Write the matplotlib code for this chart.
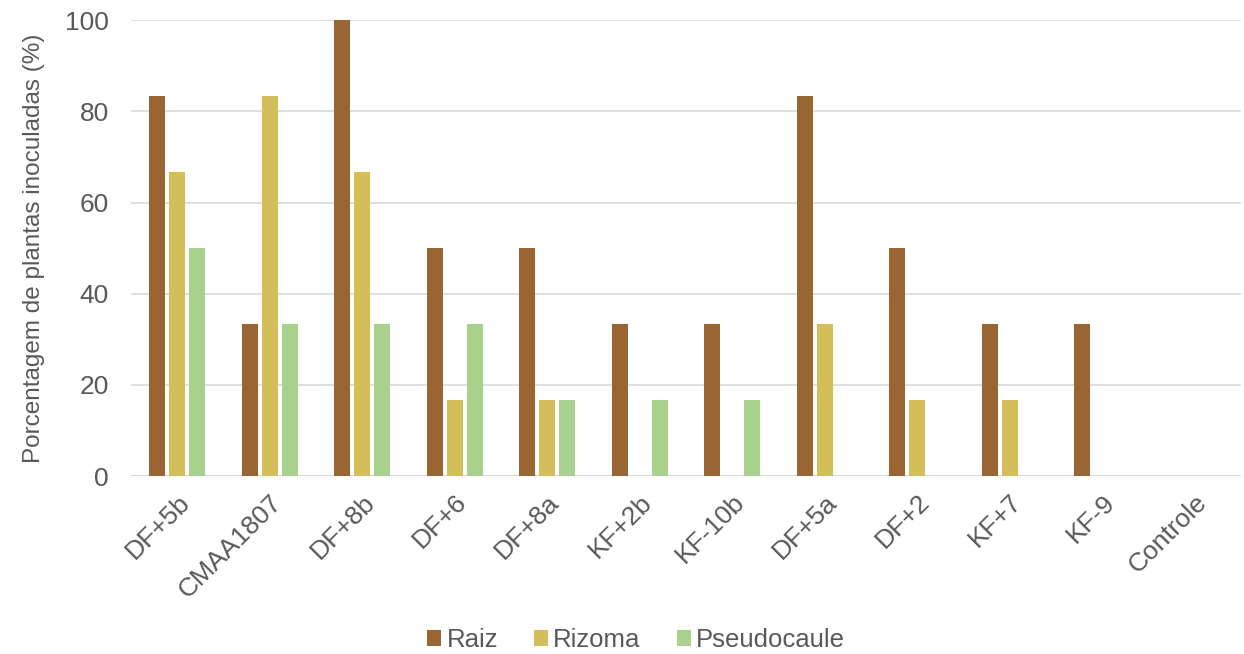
import numpy as np
import matplotlib.pyplot as plt

plt.rcParams['font.family'] = ['Liberation Sans', 'DejaVu Sans']

categorias = ['DF+5b', 'CMAA1807', 'DF+8b', 'DF+6', 'DF+8a', 'KF+2b', 'KF-10b',
              'DF+5a', 'DF+2', 'KF+7', 'KF-9', 'Controle']
raiz = [83.3, 33.3, 100, 50, 50, 33.3, 33.3, 83.3, 50, 33.3, 33.3, 0]
rizoma = [66.7, 83.3, 66.7, 16.7, 16.7, 0, 0, 33.3, 16.7, 16.7, 0, 0]
pseudocaule = [50, 33.3, 33.3, 33.3, 16.7, 16.7, 16.7, 0, 0, 0, 0, 0]

series = [('Raiz', raiz, '#996633'),
          ('Rizoma', rizoma, '#D4BE5A'),
          ('Pseudocaule', pseudocaule, '#A9D18E')]

cinza = '#595959'
fig = plt.figure(figsize=(12.44, 6.54), dpi=100)
ax = fig.add_axes([0.1053, 0.272, 0.8923, 0.697])

x = np.arange(len(categorias))
passo = 0.216
largura = 0.17
for i, (nome, vals, cor) in enumerate(series):
    ax.bar(x + (i - 1) * passo, vals, largura, color=cor, label=nome, zorder=3)

ax.set_xlim(-0.5, len(categorias) - 0.5)
ax.set_ylim(0, 100)
ax.set_yticks(range(0, 101, 20))
ax.yaxis.grid(True, color='#D9D9D9', linewidth=1.2, zorder=0)
for s in ax.spines.values():
    s.set_visible(False)
ax.axhline(0, color='#D9D9D9', linewidth=1.2, zorder=1)
ax.tick_params(axis='both', length=0, labelsize=19, colors=cinza)
ax.tick_params(axis='y', pad=16)
ax.tick_params(axis='x', pad=10)
ax.set_xticks(x)
ax.set_xticklabels(categorias, rotation=45, ha='right', rotation_mode='anchor')
ax.set_ylabel('Porcentagem de plantas inoculadas (%)', fontsize=17.5, color=cinza, labelpad=14)

ax.legend(loc='center', bbox_to_anchor=(0.455, -0.36), ncol=3, frameon=False,
          fontsize=18.5, labelcolor=cinza, handlelength=0.55, handleheight=0.55,
          handletextpad=0.2, columnspacing=1.4)

fig.savefig('out.png', dpi=100)
